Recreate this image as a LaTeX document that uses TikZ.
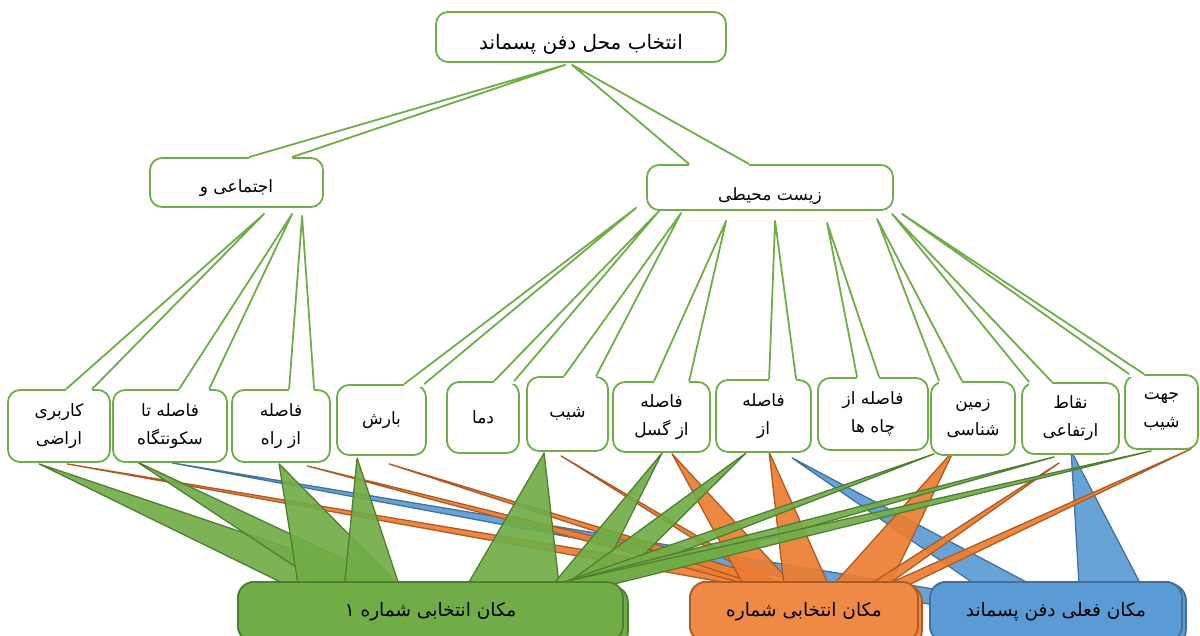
\documentclass[tikz,border=0pt]{standalone}
\usepackage{fontspec}
\newfontfamily\fa[Script=Arabic]{DejaVu Sans}
\TeXXeTstate=1
\usetikzlibrary{positioning,calc}
\pgfdeclarelayer{background}
\pgfsetlayers{background,main}

\definecolor{boxgreen}{RGB}{112,173,71}
\definecolor{darkgreen}{RGB}{80,126,50}
\definecolor{resorange}{RGB}{237,125,49}
\definecolor{darkorange}{RGB}{174,90,33}
\definecolor{resblue}{RGB}{91,155,213}
\definecolor{darkblue}{RGB}{65,113,156}

\newcommand{\fatxt}[1]{\beginR #1\endR}
% pointer of a white callout: node, left and right offset from its west side, tip
\newcommand{\callptr}[4]{%
  \fill[white] ($(#1.north west)+(#2,3)$) -- ($(#1.north west)+(#2,0)$) -- (#4) -- ($(#1.north west)+(#3,0)$) -- ($(#1.north west)+(#3,3)$) -- cycle;
  \draw[ptrline] ($(#1.north west)+(#2,0)$) -- (#4) -- ($(#1.north west)+(#3,0)$);}
% spoke of a result callout: style, tip, base, base
\newcommand{\spoke}[4]{\filldraw[#1] (#2) -- (#3) -- (#4) -- cycle;}

\begin{document}
\begin{tikzpicture}[x=1pt,y=-1pt,
						callbox/.style={draw=boxgreen, line width=1.8pt, fill=white, rounded corners=12pt, inner sep=0pt, align=center, font=\fa\fontsize{17}{28}\selectfont},
						ptrline/.style={draw=boxgreen, line width=1.8pt, line join=round},
						titletext/.style={font=\fa\fontsize{17}{20}\selectfont},
						resbox/.style={line width=1.8pt, rounded corners=16pt, inner sep=0pt, minimum height=60pt, font=\fa\fontsize{18.5}{22}\selectfont},
						greenres/.style={resbox, fill=boxgreen, draw=darkgreen},
						orangeres/.style={resbox, fill=resorange!90!white, draw=darkorange},
						blueres/.style={resbox, fill=resblue, draw=darkblue},
						greenspoke/.style={fill=boxgreen, fill opacity=0.92, draw=darkgreen, line width=1.3pt, line join=round},
						orangespoke/.style={fill=resorange, fill opacity=0.92, draw=darkorange, line width=1.3pt, line join=round},
						bluespoke/.style={fill=resblue, fill opacity=0.92, draw=darkblue, line width=1.3pt, line join=round},
						]
						\useasboundingbox (0,0) rectangle (1200,635);
						%Nodes
						\node[callbox, minimum width=290pt, minimum height=50pt] (top) at (581,37) {};
						\node[titletext, font=\fa\fontsize{20}{24}\selectfont] (topT) at (581,44) {\fatxt{انتخاب محل دفن پسماند}};
						\node[callbox, minimum width=173pt, minimum height=49pt] (social) at (236.5,182.5) {};
						\node[titletext] (socialT) at (236.5,188) {\fatxt{اجتماعی و}};
						\node[callbox, minimum width=246pt, minimum height=45pt] (enviro) at (770,187.5) {};
						\node[titletext] (enviroT) at (770,196) {\fatxt{زیست محیطی}};

						\node[callbox, minimum width=102pt, minimum height=72pt] (f1) at (59,426) {\fatxt{کاربری}\\\fatxt{اراضی}};
						\node[callbox, minimum width=114pt, minimum height=72pt] (f2) at (170,426) {\fatxt{فاصله تا}\\\fatxt{سکونتگاه}};
						\node[callbox, minimum width=98pt, minimum height=72pt] (f3) at (281,426) {\fatxt{فاصله}\\\fatxt{از راه}};
						\node[callbox, minimum width=89pt, minimum height=70pt] (f4) at (381.5,420) {\fatxt{بارش}};
						\node[callbox, minimum width=72pt, minimum height=71pt] (f5) at (483,417.5) {\fatxt{دما}};
						\node[callbox, minimum width=81pt, minimum height=74pt] (f6) at (567.5,414) {\fatxt{شیب}};
						\node[callbox, minimum width=97pt, minimum height=70pt] (f7) at (661.5,417) {\fatxt{فاصله}\\\fatxt{از گسل}};
						\node[callbox, minimum width=95pt, minimum height=72pt] (f8) at (763.5,416) {\fatxt{فاصله}\\\fatxt{از}};
						\node[callbox, minimum width=110pt, minimum height=72pt] (f9) at (873,414) {\fatxt{فاصله از}\\\fatxt{چاه ها}};
						\node[callbox, minimum width=84pt, minimum height=73pt] (f10) at (973,418.5) {\fatxt{زمین}\\\fatxt{شناسی}};
						\node[callbox, minimum width=97pt, minimum height=71pt] (f11) at (1070.5,418.5) {\fatxt{نقاط}\\\fatxt{ارتفاعی}};
						\node[callbox, minimum width=73pt, minimum height=74pt] (f12) at (1161.5,412) {\fatxt{جهت}\\\fatxt{شیب}};

						%Callout pointers
						\callptr{social}{100}{143}{$(top.south west)+(130,2)$}
						\callptr{enviro}{43}{103}{$(top.south west)+(137,2)$}
						\callptr{f1}{59}{85}{$(social.south west)+(115,6)$}
						\callptr{f2}{67}{97}{$(social.south west)+(143,6)$}
						\callptr{f3}{58}{83}{$(social.south west)+(153,8)$}
						\callptr{f4}{68}{88}{$(enviro.south west)+(-10,-3)$}
						\callptr{f5}{48}{68}{$(enviro.south west)+(13,0)$}
						\callptr{f6}{38}{70}{$(enviro.south west)+(35,2)$}
						\callptr{f7}{42}{77}{$(enviro.south west)+(80,10)$}
						\callptr{f8}{54}{81}{$(enviro.south west)+(129,10)$}
						\callptr{f9}{40}{62}{$(enviro.south west)+(181,12)$}
						\callptr{f10}{9}{32}{$(enviro.south west)+(231,8)$}
						\callptr{f11}{8}{31}{$(enviro.south west)+(246,3)$}
						\callptr{f12}{5}{20}{$(enviro.south west)+(256,3)$}

						\begin{pgfonlayer}{background}
						%Blue result
						\node[blueres, minimum width=252pt] (r3) at (1056,612) {\fatxt{مکان فعلی دفن پسماند}};
						\spoke{bluespoke}{$(f2.south west)+(60,0)$}{$(r3.north west)+(5,8)$}{$(r3.north west)+(5,24)$}
						\spoke{bluespoke}{$(f8.south west)+(77,5)$}{$(r3.north west)+(47,4)$}{$(r3.north west)+(103,4)$}
						\spoke{bluespoke}{$(f11.south west)+(50,-4)$}{$(r3.north west)+(150,4)$}{$(r3.north west)+(212,4)$}
						\path[blueres] ($(r3.north west)+(3,3)$) rectangle ($(r3.south east)+(3,3)$);
						\node[blueres, minimum width=252pt] at (r3) {\fatxt{مکان فعلی دفن پسماند}};

						%Orange result
						\node[orangeres, minimum width=228pt] (r2) at (804,612) {};
						\spoke{orangespoke}{$(f1.south west)+(60,1)$}{$(r2.north west)+(95,2)$}{$(r2.north west)+(100,13)$}
						\spoke{orangespoke}{$(f3.south west)+(76,3)$}{$(r2.north west)+(95,2)$}{$(r2.north west)+(102,15)$}
						\spoke{orangespoke}{$(f4.south west)+(53,8)$}{$(r2.north west)+(95,2)$}{$(r2.north west)+(105,15)$}
						\spoke{orangespoke}{$(f6.south west)+(35,4)$}{$(r2.north west)+(80,5)$}{$(r2.north west)+(110,15)$}
						\spoke{orangespoke}{$(f7.south west)+(60,1)$}{$(r2.north west)+(55,5)$}{$(r2.north west)+(105,5)$}
						\spoke{orangespoke}{$(f8.south west)+(54,-1)$}{$(r2.north west)+(95,5)$}{$(r2.north west)+(140,5)$}
						\spoke{orangespoke}{$(f10.south west)+(24,-6)$}{$(r2.north west)+(143,5)$}{$(r2.north west)+(200,5)$}
						\spoke{orangespoke}{$(f11.south west)+(38,8)$}{$(r2.north west)+(175,7)$}{$(r2.north west)+(202,1)$}
						\spoke{orangespoke}{$(f12.south west)+(67,-1)$}{$(r2.north west)+(205,0)$}{$(r2.north west)+(190,18)$}
						\path[orangeres] ($(r2.north west)+(3,4)$) rectangle ($(r2.south east)+(3,4)$);
						\node[orangeres, minimum width=228pt] at (r2) {\fatxt{مکان انتخابی شماره}};

						%Green result
						\node[greenres, minimum width=385pt] (r1) at (430.5,612) {};
						\spoke{greenspoke}{$(f1.south west)+(32,1)$}{$(r1.north west)+(62,10)$}{$(r1.north west)+(162,4)$}
						\spoke{greenspoke}{$(f2.south west)+(25,-1)$}{$(r1.north west)+(92,8)$}{$(r1.north west)+(162,4)$}
						\spoke{greenspoke}{$(f3.south west)+(48,1)$}{$(r1.north west)+(62,10)$}{$(r1.north west)+(162,4)$}
						\spoke{greenspoke}{$(f4.south west)+(21,2)$}{$(r1.north west)+(107,8)$}{$(r1.north west)+(162,4)$}
						\spoke{greenspoke}{$(f6.south west)+(18,1)$}{$(r1.north west)+(229,6)$}{$(r1.north west)+(322,4)$}
						\spoke{greenspoke}{$(f7.south west)+(50,0)$}{$(r1.north west)+(312,8)$}{$(r1.north west)+(357,8)$}
						\spoke{greenspoke}{$(f8.south west)+(31,0)$}{$(r1.north west)+(322,8)$}{$(r1.north west)+(372,8)$}
						\spoke{greenspoke}{$(f10.south west)+(4,-2)$}{$(r1.north west)+(326,1)$}{$(r1.north west)+(322,18)$}
						\spoke{greenspoke}{$(f11.south west)+(33,2)$}{$(r1.north west)+(326,1)$}{$(r1.north west)+(320,18)$}
						\spoke{greenspoke}{$(f12.south west)+(27,1)$}{$(r1.north west)+(326,1)$}{$(r1.north west)+(316,18)$}
						\path[greenres] ($(r1.north west)+(4,5)$) rectangle ($(r1.south east)+(4,5)$);
						\node[greenres, minimum width=385pt] at (r1) {\fatxt{مکان انتخابی شماره ۱}};
						\end{pgfonlayer}
					\end{tikzpicture}
\end{document}
